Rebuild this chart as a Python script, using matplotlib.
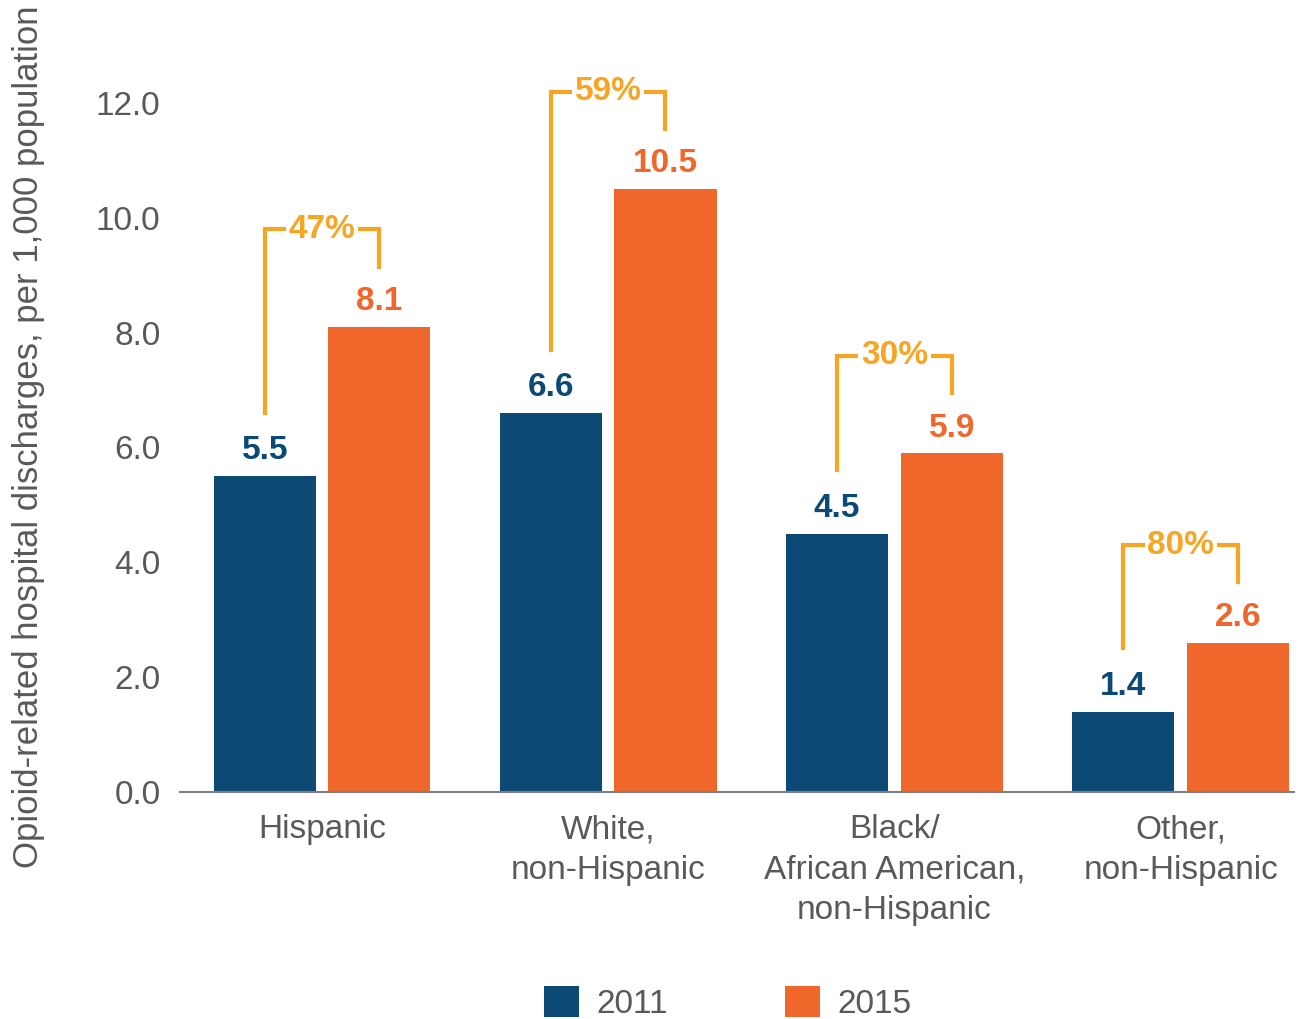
import matplotlib.pyplot as plt
import numpy as np

plt.rcParams['font.family'] = ['Liberation Sans', 'DejaVu Sans']

# data
categories = ['Hispanic', 'White,\nnon-Hispanic', 'Black/\nAfrican American,\nnon-Hispanic', 'Other,\nnon-Hispanic']
rate_2011 = [5.5, 6.6, 4.5, 1.4]
rate_2015 = [8.1, 10.5, 5.9, 2.6]
pct_change = ['47%', '59%', '30%', '80%']
years = ['2011', '2015']

blue = '#0c4a75'
orange = '#f0672b'
gold = '#f6a524'
gray = '#595959'

fig = plt.figure(figsize=(13.09, 10.19), dpi=100)
ax = fig.add_axes([0.1375, 0.2228, 0.851, 0.7606])

x = np.arange(len(categories))
w = 0.357
off = 0.2
b1 = ax.bar(x - off, rate_2011, w, color=blue, label=years[0])
b2 = ax.bar(x + off, rate_2015, w, color=orange, label=years[1])

# value labels
for i in range(len(x)):
    ax.annotate(f'{rate_2011[i]:.1f}', (x[i] - off, rate_2011[i]), textcoords='offset points',
                xytext=(0, 7), ha='center', va='bottom', fontsize=24, fontweight='bold', color=blue)
    ax.annotate(f'{rate_2015[i]:.1f}', (x[i] + off, rate_2015[i]), textcoords='offset points',
                xytext=(0, 7), ha='center', va='bottom', fontsize=24, fontweight='bold', color=orange)

# brackets with % change
for i in range(len(x)):
    top = rate_2015[i] + 1.7
    lb = rate_2011[i] + 1.1
    rb = rate_2015[i] + 1.05
    ax.plot([x[i] - off, x[i] - off, x[i] + off, x[i] + off], [lb, top, top, rb],
            color=gold, lw=3, solid_joinstyle='miter', zorder=2)
    ax.text(x[i], top, pct_change[i], ha='center', va='center', fontsize=24, fontweight='bold',
            color=gold, zorder=3, bbox=dict(facecolor='white', edgecolor='none', pad=2))

ax.set_xlim(-0.496, 3.396)
ax.set_ylim(0, 13.5)
ax.set_yticks(np.arange(0, 13, 2))
ax.set_yticklabels([f'{v:.1f}' for v in np.arange(0, 13, 2)])
ax.set_xticks(x)
ax.set_xticklabels(categories, fontsize=24, color=gray, linespacing=1.4)
ax.tick_params(axis='y', length=0, pad=14, labelsize=24, labelcolor=gray)
ax.tick_params(axis='x', length=0, pad=16)
for s in ['top', 'right', 'left']:
    ax.spines[s].set_visible(False)
ax.spines['bottom'].set_color('#808080')
ax.spines['bottom'].set_linewidth(1.5)

fig.text(0.0214, 0.571, 'Opioid-related hospital discharges, per 1,000 population',
         rotation=90, ha='center', va='center', fontsize=25, color=gray,
         family=['Liberation Sans Narrow', 'Liberation Sans', 'DejaVu Sans'])

fig.legend(handles=[b1, b2], labels=years, loc='center', bbox_to_anchor=(0.556, 0.016),
           ncol=2, frameon=False, fontsize=24, handlelength=1.05, handleheight=1.05,
           columnspacing=3.5, handletextpad=0.54, labelcolor=gray, borderpad=0)

fig.savefig('out.png', dpi=100)
